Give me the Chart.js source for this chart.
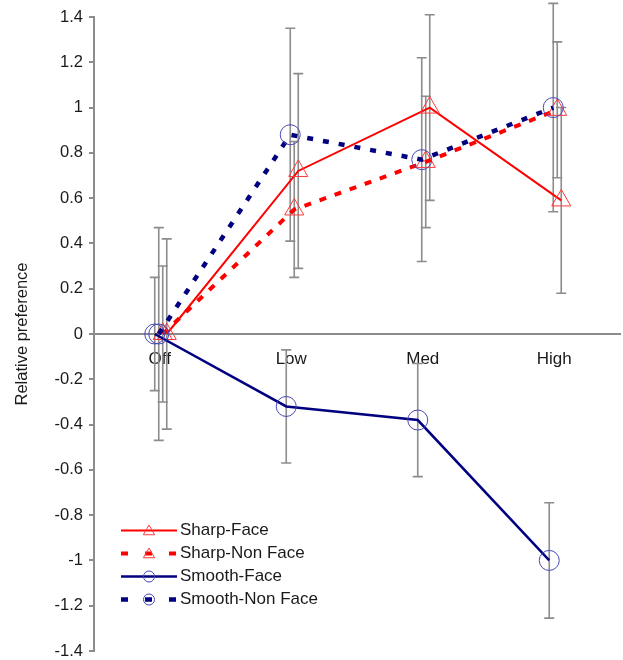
<!DOCTYPE html>
<html><head><meta charset="utf-8">
<script src="https://cdn.jsdelivr.net/npm/chart.js@4/dist/chart.umd.min.js"></script>
<style>html,body{margin:0;padding:0;background:#fff}#wrap{width:623px;height:660px}</style>
</head><body><div id="wrap"><canvas id="c" width="623" height="660"></canvas></div>
<script>
// ---- data ----
const categories = ['Off', 'Low', 'Med', 'High'];
const seriesNames = ['Sharp-Face', 'Sharp-Non Face', 'Smooth-Face', 'Smooth-Non Face'];
const sharpFace = [0, 0.72, 1.0, 0.59];
const sharpFaceErr = [0.42, 0.43, 0.41, 0.41];
const sharpNonFace = [0, 0.55, 0.76, 0.99];
const sharpNonFaceErr = [0.30, 0.30, 0.29, 0.30];
const smoothFace = [0, -0.32, -0.38, -1.0];
const smoothFaceErr = [0.25, 0.25, 0.25, 0.255];
const smoothNonFace = [0, 0.88, 0.77, 1.0];
const smoothNonFaceErr = [0.47, 0.47, 0.45, 0.46];
const yTickValues = [-1.4, -1.2, -1, -0.8, -0.6, -0.4, -0.2, 0, 0.2, 0.4, 0.6, 0.8, 1, 1.2, 1.4];

// ---- style (horizontal jitter per series, in category units) ----
const PX_PER_CAT = 131.5;
const jitter = { sf: 7 / PX_PER_CAT, snf: 3 / PX_PER_CAT, mf: -5 / PX_PER_CAT, mnf: -1 / PX_PER_CAT };

function pts(values, jit) { return values.map((v, i) => ({ x: i + jit, y: v })); }

const RED = '#ff0000', NAVY = '#000080', MARK_RED = '#ff3a3a', MARK_BLUE = '#4848b8', GREY = '#8c8c8c';
const FONT = "'Liberation Sans', Arial, sans-serif";

const datasets = [
  { label: seriesNames[0], data: pts(sharpFace, jitter.sf), err: sharpFaceErr, order: 3,
    borderColor: RED, borderWidth: 2, pointStyle: 'triangle', pointRadius: 11, pointBorderWidth: 1,
    pointBorderColor: MARK_RED, pointBackgroundColor: 'rgba(255,255,255,0)', legendDash: [] },
  { label: seriesNames[1], data: pts(sharpNonFace, jitter.snf), err: sharpNonFaceErr, order: 2,
    borderColor: RED, borderWidth: 4, borderDash: [7, 9], pointStyle: 'triangle', pointRadius: 11, pointBorderWidth: 1,
    pointBorderColor: MARK_RED, pointBackgroundColor: 'rgba(255,255,255,0)', legendDash: [7, 17] },
  { label: seriesNames[2], data: pts(smoothFace, jitter.mf), err: smoothFaceErr, order: 1,
    borderColor: NAVY, borderWidth: 2.5, pointStyle: 'circle', pointRadius: 10, pointBorderWidth: 1,
    pointBorderColor: MARK_BLUE, pointBackgroundColor: 'rgba(255,255,255,0)', legendDash: [] },
  { label: seriesNames[3], data: pts(smoothNonFace, jitter.mnf), err: smoothNonFaceErr, order: 0,
    borderColor: NAVY, borderWidth: 4.5, borderDash: [6, 10], pointStyle: 'circle', pointRadius: 10, pointBorderWidth: 1,
    pointBorderColor: MARK_BLUE, pointBackgroundColor: 'rgba(255,255,255,0)', legendDash: [7, 17] }
];

const errorBars = {
  id: 'errorBars',
  beforeDatasetsDraw(chart) {
    const { ctx, scales: { x, y } } = chart;
    ctx.save();
    ctx.strokeStyle = GREY;
    ctx.lineWidth = 1.6;
    chart.data.datasets.forEach(ds => {
      ds.data.forEach((p, i) => {
        const e = ds.err[i];
        const px = x.getPixelForValue(p.x);
        const yt = y.getPixelForValue(p.y + e), yb = y.getPixelForValue(p.y - e);
        ctx.beginPath();
        ctx.moveTo(px, yt); ctx.lineTo(px, yb);
        ctx.moveTo(px - 5, yt); ctx.lineTo(px + 5, yt);
        ctx.moveTo(px - 5, yb); ctx.lineTo(px + 5, yb);
        ctx.stroke();
      });
    });
    ctx.restore();
  }
};

const customLegend = {
  id: 'customLegend',
  afterDraw(chart) {
    const { ctx, chartArea } = chart;
    const x0 = chartArea.left + 27, x1 = x0 + 56, xm = (x0 + x1) / 2, tx = x1 + 3;
    let y0 = chartArea.bottom - 120.5;
    ctx.save();
    chart.data.datasets.forEach((ds, i) => {
      const yy = y0 + i * 23;
      ctx.save();
      ctx.strokeStyle = ds.borderColor;
      ctx.lineWidth = ds.borderWidth;
      ctx.setLineDash(ds.legendDash);
      ctx.beginPath(); ctx.moveTo(x0, yy); ctx.lineTo(x1, yy); ctx.stroke();
      ctx.restore();
      ctx.save();
      ctx.strokeStyle = ds.pointBorderColor;
      ctx.fillStyle = 'rgba(255,255,255,0)';
      ctx.lineWidth = 1;
      Chart.helpers.drawPoint(ctx, { pointStyle: ds.pointStyle, radius: ds.pointStyle === 'triangle' ? 6.5 : 5.5, borderWidth: 1, rotation: 0 }, xm, yy + (ds.pointStyle === 'triangle' ? 1 : 0));
      ctx.restore();
      ctx.fillStyle = '#1a1a1a';
      ctx.font = '17px ' + FONT;
      ctx.textBaseline = 'middle';
      ctx.textAlign = 'left';
      ctx.fillText(ds.label, tx, yy);
    });
    ctx.restore();
  }
};

new Chart(document.getElementById('c'), {
  type: 'line',
  data: { datasets },
  options: {
    responsive: false,
    devicePixelRatio: 1,
    animation: false,
    layout: { autoPadding: false, padding: { left: 0, top: 17, right: 3, bottom: 9 } },
    plugins: { legend: { display: false }, tooltip: { enabled: false } },
    elements: { line: { tension: 0 } },
    scales: {
      x: {
        type: 'linear', min: -0.5, max: 3.5,
        position: { y: 0 },
        afterBuildTicks: s => { s.ticks = categories.map((c, i) => ({ value: i })); },
        afterFit: s => { s.paddingLeft = 0; s.paddingRight = 0; s.paddingTop = 0; s.paddingBottom = 0; },
        ticks: { callback: v => categories[v] ?? '', color: '#1a1a1a', font: { family: FONT, size: 17 }, padding: 15, maxRotation: 0, autoSkip: false },
        grid: { display: false, drawTicks: false },
        border: { display: true, color: GREY, width: 2 }
      },
      y: {
        type: 'linear', min: -1.4, max: 1.4,
        afterBuildTicks: s => { s.ticks = yTickValues.map(v => ({ value: v })); },
        afterFit: s => { s.width = 94; s.paddingTop = 0; s.paddingBottom = 0; },
        ticks: { callback: v => String(Math.round(v * 10) / 10), color: '#1a1a1a', font: { family: FONT, size: 16.5 }, padding: 6 },
        grid: { drawOnChartArea: false, drawTicks: true, tickLength: 5, color: GREY, lineWidth: 2 },
        border: { display: true, color: GREY, width: 2 },
        title: { display: true, text: 'Relative preference', color: '#1a1a1a', font: { family: FONT, size: 16.5 }, padding: { top: 13, bottom: 0 } }
      }
    }
  },
  plugins: [errorBars, customLegend]
});
</script>
</body></html>
